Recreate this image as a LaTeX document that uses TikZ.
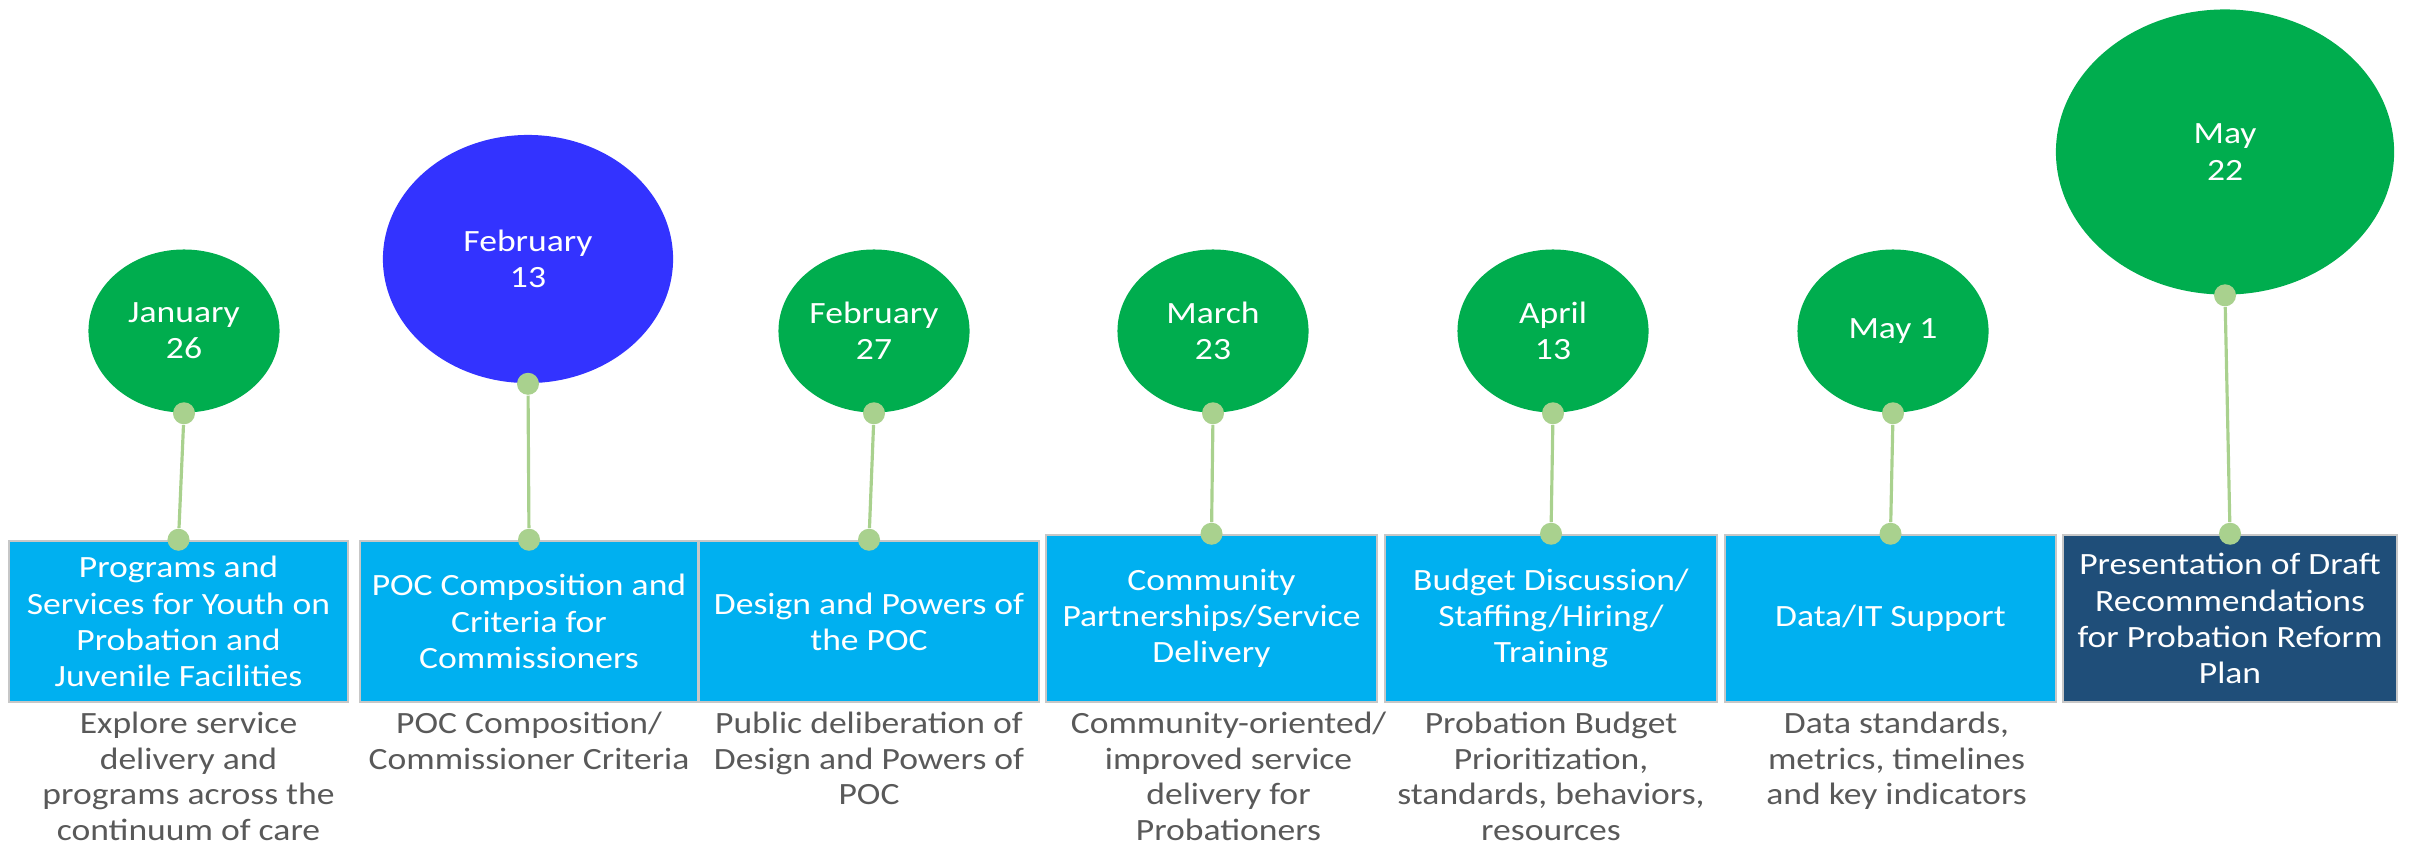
\documentclass[tikz,border=0pt]{standalone}
\usepackage{fontspec}
\setmainfont{Carlito}[FakeStretch=1.15]
\usetikzlibrary{shapes.geometric,positioning}

\definecolor{dategreen}{HTML}{00AD4E}
\definecolor{dateblue}{HTML}{3333FF}
\definecolor{topicblue}{HTML}{00B0F0}
\definecolor{topicnavy}{HTML}{1F4E79}
\definecolor{stemgreen}{HTML}{A9D18E}
\definecolor{notegray}{HTML}{595959}

\begin{document}
\begin{tikzpicture}[x=0.01cm, y=-0.01cm,
		every node/.style={font=\fontsize{8.8}{10.3}\selectfont},
		date/.style={ellipse, fill=dategreen, text=white, align=center, inner sep=0pt, minimum width=1.91cm, minimum height=1.63cm},
		topic/.style={rectangle, fill=topicblue, draw=black!22, line width=0.7pt, text=white, align=center, inner sep=0pt, minimum height=1.61cm},
		note/.style={text=notegray, align=center, inner sep=0pt, font=\fontsize{8.8}{10.1}\selectfont},
		knob/.style={circle, fill=stemgreen, inner sep=0pt, minimum size=0.22cm},
		stem/.style={draw=stemgreen, line width=0.9pt}]
					\useasboundingbox (0,0) rectangle (2410,847);

					% dates
					\node[date] (e1) at (184,331) {January\\26};
					\node[date, fill=dateblue, minimum width=2.90cm, minimum height=2.48cm] (e2) at (528,259) {February\\13};
					\node[date] (e3) at (874,331) {February\\27};
					\node[date] (e4) at (1213,331) {March\\23};
					\node[date] (e5) at (1553,331) {April\\13};
					\node[date] (e6) at (1893,331) {May 1};
					\node[date, minimum width=3.38cm, minimum height=2.85cm] (e7) at (2225,152) {May\\22};

					% topics
					\node[topic, minimum width=3.39cm] (b1) at (178.5,621.5) {Programs and\\Services for Youth on\\Probation and\\Juvenile Facilities};
					\node[topic, minimum width=3.38cm] (b2) at (529,621.5) {POC Composition and\\Criteria for\\Commissioners};
					\node[topic, minimum width=3.40cm] (b3) at (869,621.5) {Design and Powers of\\the POC};
					\node[topic, minimum width=3.31cm, minimum height=1.67cm] (b4) at (1211.5,618.5) {Community\\Partnerships/Service\\Delivery};
					\node[topic, minimum width=3.32cm, minimum height=1.67cm] (b5) at (1551,618.5) {Budget Discussion/\\Staffing/Hiring/\\Training};
					\node[topic, minimum width=3.31cm, minimum height=1.67cm] (b6) at (1890.5,618.5) {Data/IT Support};
					\node[topic, fill=topicnavy, minimum width=3.34cm, minimum height=1.67cm] (b7) at (2230,618.5) {Presentation of Draft\\Recommendations\\for Probation Reform\\Plan};

					% notes under the topics
					\node[note, below=0.08cm of b1, xshift=0.1cm] (n1) {Explore service\\delivery and\\programs across the\\continuum of care};
					\node[note, below=0.08cm of b2] (n2) {POC Composition/\\Commissioner Criteria};
					\node[note, below=0.08cm of b3] (n3) {Public deliberation of\\Design and Powers of\\POC};
					\node[note, below=0.08cm of b4, xshift=0.17cm] (n4) {Community-oriented/\\improved service\\delivery for\\Probationers};
					\node[note, below=0.08cm of b5] (n5) {Probation Budget\\Prioritization,\\standards, behaviors,\\resources};
					\node[note, below=0.08cm of b6, xshift=0.06cm] (n6) {Data standards,\\metrics, timelines\\and key indicators};

					% knobs
					\node[knob] (t1) at (e1.south) {};
					\node[knob] (t2) at (e2.south) {};
					\node[knob] (t3) at (e3.south) {};
					\node[knob] (t4) at (e4.south) {};
					\node[knob] (t5) at (e5.south) {};
					\node[knob] (t6) at (e6.south) {};
					\node[knob] (t7) at (e7.south) {};
					\node[knob] (k1) at (b1.north) {};
					\node[knob] (k2) at (b2.north) {};
					\node[knob] (k3) at (b3.north) {};
					\node[knob] (k4) at (b4.north) {};
					\node[knob] (k5) at (b5.north) {};
					\node[knob] (k6) at (b6.north) {};
					\node[knob] (k7) at (b7.north) {};

					\path[stem]
						(t1) edge (k1)
						(t2) edge (k2)
						(t3) edge (k3)
						(t4) edge (k4)
						(t5) edge (k5)
						(t6) edge (k6)
						(t7) edge (k7)
					;
				\end{tikzpicture}
\end{document}
